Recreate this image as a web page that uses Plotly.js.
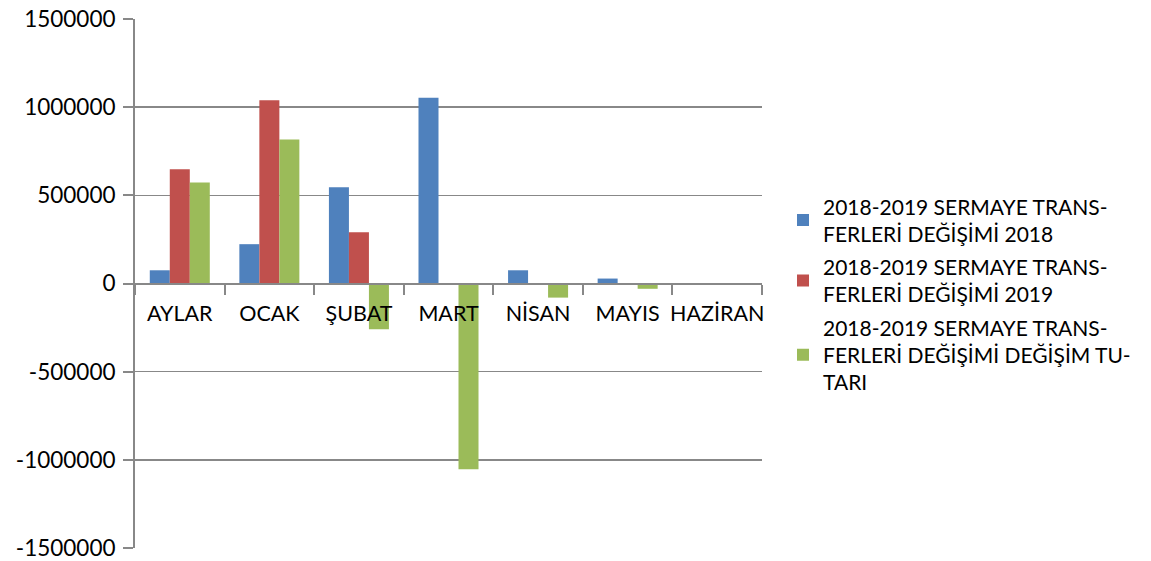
<!DOCTYPE html>
<html>
<head>
<meta charset="utf-8">
<script src="https://cdn.plot.ly/plotly-3.0.1.min.js"></script>
<style>html,body{margin:0;padding:0;background:#fff;}#chart{width:1151px;height:561px;}</style>
</head>
<body>
<div id="chart"></div>
<script>
const categories = ['AYLAR', 'OCAK', 'ŞUBAT', 'MART', 'NİSAN', 'MAYIS', 'HAZİRAN'];
const values2018 = [75000, 223000, 546000, 1054000, 75000, 28000, 0];
const values2019 = [648000, 1039000, 291000, 0, 0, 0, 0];
const valuesDiff = [573000, 816000, -260000, -1054000, -80000, -30000, 0];
const seriesNames = [
  '2018-2019 SERMAYE TRANS-<br>FERLERİ DEĞİŞİMİ 2018',
  '2018-2019 SERMAYE TRANS-<br>FERLERİ DEĞİŞİMİ 2019',
  '2018-2019 SERMAYE TRANS-<br>FERLERİ DEĞİŞİMİ DEĞİŞİM TU-<br>TARI'
];
const yTicks = [-1500000, -1000000, -500000, 0, 500000, 1000000, 1500000];
const colors = ['#4F81BD', '#C0504D', '#9BBB59'];

const allSeries = [values2018, values2019, valuesDiff];
const traces = allSeries.map((vals, i) => ({
  type: 'bar',
  x: categories,
  y: vals,
  name: seriesNames[i],
  legendgroup: 'g' + i,
  marker: {color: colors[i]},
  hoverinfo: 'x+y'
}));

const font = 'Lato, Carlito, "DejaVu Sans", sans-serif';
const layout = {
  width: 1151,
  height: 561,
  margin: {l: 135, r: 389, t: 19, b: 13, pad: 0},
  paper_bgcolor: '#ffffff',
  plot_bgcolor: '#ffffff',
  font: {family: font, size: 20, color: '#000000'},
  barmode: 'group',
  bargap: 0.33,
  bargroupgap: 0,
  showlegend: true,
  legend: {
    x: 1.0335, xanchor: 'left',
    y: 0.684, yanchor: 'top',
    font: {family: font, size: 21, color: '#000000'},
    traceorder: 'grouped',
    tracegroupgap: 3,
    borderwidth: 0,
    bgcolor: 'rgba(0,0,0,0)'
  },
  xaxis: {
    type: 'category',
    range: [-0.5, 6.5],
    anchor: 'free',
    position: 0.5,
    automargin: false,
    showline: true,
    linecolor: '#888888',
    linewidth: 2,
    ticks: 'outside',
    tickson: 'boundaries',
    ticklen: 10,
    tickwidth: 2,
    tickcolor: '#888888',
    tickangle: 0,
    showgrid: false,
    zeroline: false,
    tickfont: {family: font, size: 21.5, color: '#000000'},
    ticklabelstandoff: 11,
    fixedrange: true
  },
  yaxis: {
    range: [-1500000, 1500000],
    tickvals: yTicks,
    ticktext: yTicks.map(v => String(v)),
    automargin: false,
    showline: true,
    linecolor: '#888888',
    linewidth: 2,
    ticks: 'outside',
    ticklen: 10,
    tickwidth: 2,
    tickcolor: '#888888',
    showgrid: true,
    gridcolor: '#888888',
    gridwidth: 1.5,
    zeroline: false,
    tickfont: {family: font, size: 22.5, color: '#000000'},
    ticklabelstandoff: 3,
    fixedrange: true
  }
};

Plotly.newPlot('chart', traces, layout, {displayModeBar: false, staticPlot: true});
</script>
</body>
</html>
